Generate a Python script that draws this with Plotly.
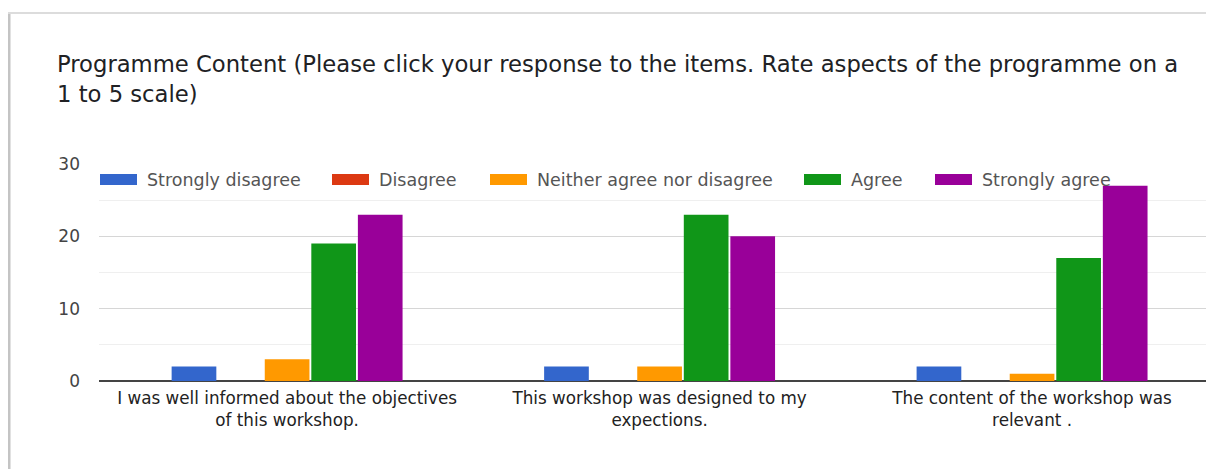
import plotly.graph_objects as go

categories = [
    "I was well informed about the objectives<br>of this workshop.",
    "This workshop was designed to my<br>expections.",
    "The content of the workshop was<br>relevant .",
]
series_names = ["Strongly disagree", "Disagree", "Neither agree nor disagree", "Agree", "Strongly agree"]
series_values = [
    [2, 2, 2],
    [0, 0, 0],
    [3, 2, 1],
    [19, 23, 17],
    [23, 20, 27],
]
colors = ["#3366cc", "#dc3912", "#ff9900", "#109618", "#990099"]
y_ticks = [0, 10, 20, 30]

OFF = 8  # page body margin
W, H = 1214 - OFF, 469 - OFF
# plot area in page pixels
L, R, T, B = 99, 1209, 164, 381
FONT = "DejaVu Sans"


def px_x(p):
    return (p - L) / (R - L)


def px_y(p):
    return (B - p) / (B - T)


fig = go.Figure()
for name, vals, col in zip(series_names, series_values, colors):
    fig.add_trace(go.Bar(x=list(range(len(categories))), y=vals, name=name,
                         marker=dict(color=col, line=dict(width=0))))

# custom legend (wide rectangle swatches)
legend_x = [100, 332, 490, 804, 935]
shapes = []
annotations = []
for name, col, x0 in zip(series_names, colors, legend_x):
    shapes.append(dict(type="rect", xref="paper", yref="paper",
                       x0=px_x(x0), x1=px_x(x0 + 37), y0=px_y(185), y1=px_y(174),
                       fillcolor=col, line=dict(width=0), layer="above"))
    annotations.append(dict(xref="paper", yref="paper", x=px_x(x0 + 45), y=px_y(179.5),
                            text=name, showarrow=False, xanchor="left", yanchor="middle",
                            font=dict(family=FONT, size=17.5, color="#555555")))

# card border
shapes.append(dict(type="line", xref="paper", yref="paper", x0=px_x(9), x1=px_x(9),
                   y0=px_y(13), y1=px_y(480), line=dict(color="#c4c4c4", width=3)))
shapes.append(dict(type="line", xref="paper", yref="paper", x0=px_x(8), x1=px_x(1230),
                   y0=px_y(13), y1=px_y(13), line=dict(color="#dcdcdc", width=2)))

fig.update_layout(
    width=W, height=H,
    margin=dict(l=L - OFF, r=1214 - R, t=T - OFF, b=469 - B, pad=0),
    paper_bgcolor="white", plot_bgcolor="white",
    barmode="group", bargap=0.375, bargroupgap=0.04,
    showlegend=False,
    title=dict(text="Programme Content (Please click your response to the items. Rate aspects of the programme on a<br>1 to 5 scale)",
               x=(57 - OFF) / W, xanchor="left", xref="container",
               y=1 - 64 / H, yanchor="top", yref="container",
               font=dict(family=FONT, size=22.7, color="#202124")),
    xaxis=dict(tickmode="array", tickvals=list(range(len(categories))), ticktext=categories,
               range=[-0.505, 2.475], showgrid=False, showline=False, zeroline=False,
               ticks="", tickfont=dict(family=FONT, size=16.8, color="#222222"),
               ticklabelstandoff=5),
    yaxis=dict(range=[0, 30], tickvals=y_ticks, showgrid=True, gridcolor="#d6d6d6", gridwidth=1,
               minor=dict(tickvals=[5, 15, 25], showgrid=True, gridcolor="#efefef", gridwidth=1),
               zeroline=True, zerolinecolor="#444444", zerolinewidth=2,
               showline=False, ticks="", tickfont=dict(family=FONT, size=17, color="#444444"),
               ticklabelstandoff=18),
    shapes=shapes, annotations=annotations,
)

fig.write_html("out.html")
